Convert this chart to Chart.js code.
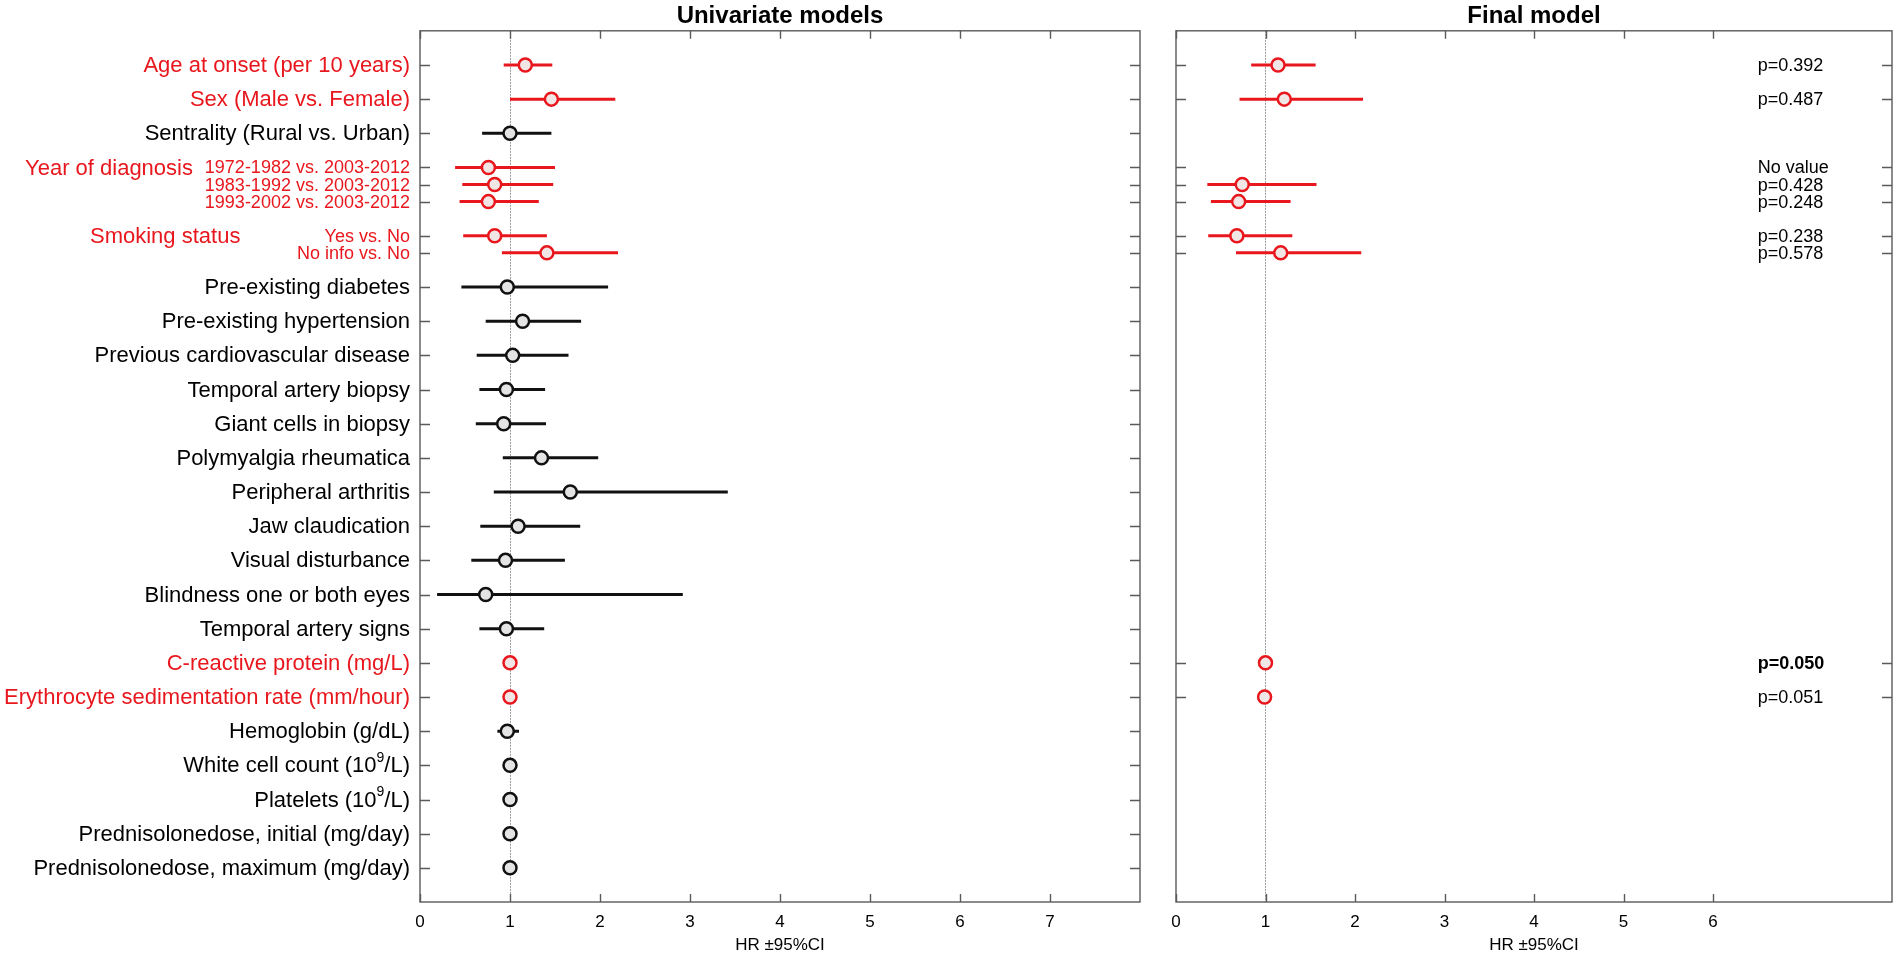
<!DOCTYPE html>
<html>
<head>
<meta charset="utf-8">
<title>Hazard ratios - univariate and final model</title>
<script src="https://cdn.jsdelivr.net/npm/chart.js@4.4.1/dist/chart.umd.min.js"></script>
<style>
  html, body { margin: 0; padding: 0; background: #fff; }
  #wrap { position: relative; width: 1902px; height: 959px; }
  canvas { position: absolute; top: 0; }
  #uniChart { left: 0; }
  #finalChart { left: 1158px; }
</style>
</head>
<body>
<div id="wrap">
  <canvas id="uniChart" width="1158" height="959"></canvas>
  <canvas id="finalChart" width="744" height="959"></canvas>
</div>
<script>
// --- univariate models (one entry per row, y position 0 = top row) ---
const rowPos = [0, 1, 2, 3, 3.5, 4, 5, 5.5, 6.5, 7.5, 8.5, 9.5, 10.5, 11.5, 12.5,
    13.5, 14.5, 15.5, 16.5, 17.5, 18.5, 19.5, 20.5, 21.5, 22.5, 23.5];
const rowLabels = [
    'Age at onset (per 10 years)',
    'Sex (Male vs. Female)',
    'Sentrality (Rural vs. Urban)',
    '1972-1982 vs. 2003-2012',
    '1983-1992 vs. 2003-2012',
    '1993-2002 vs. 2003-2012',
    'Yes vs. No',
    'No info vs. No',
    'Pre-existing diabetes',
    'Pre-existing hypertension',
    'Previous cardiovascular disease',
    'Temporal artery biopsy',
    'Giant cells in biopsy',
    'Polymyalgia rheumatica',
    'Peripheral arthritis',
    'Jaw claudication',
    'Visual disturbance',
    'Blindness one or both eyes',
    'Temporal artery signs',
    'C-reactive protein (mg/L)',
    'Erythrocyte sedimentation rate (mm/hour)',
    'Hemoglobin (g/dL)',
    'White cell count (10^9/L)',
    'Platelets (10^9/L)',
    'Prednisolonedose, initial (mg/day)',
    'Prednisolonedose, maximum (mg/day)'
];
const uniHR = [1.17, 1.46, 1.00, 0.76, 0.83, 0.76, 0.83, 1.41, 0.97, 1.14, 1.03, 0.96, 0.93,
    1.35, 1.67, 1.09, 0.95, 0.73, 0.96, 1.00, 1.00, 0.97, 1.00, 1.00, 1.00, 1.00];
const uniLo = [0.93, 1.00, 0.69, 0.39, 0.47, 0.44, 0.48, 0.91, 0.46, 0.73, 0.63, 0.66, 0.62,
    0.92, 0.82, 0.67, 0.57, 0.19, 0.66, null, null, 0.86, null, null, null, null];
const uniHi = [1.47, 2.17, 1.46, 1.50, 1.48, 1.32, 1.41, 2.20, 2.09, 1.79, 1.65, 1.39, 1.40,
    1.98, 3.42, 1.78, 1.61, 2.92, 1.38, null, null, 1.10, null, null, null, null];
const redRows = [0, 1, 3, 4, 5, 6, 7, 19, 20];
const subRows = [3, 4, 5, 6, 7];
const groupLabels = ['Year of diagnosis', 'Smoking status'];
const groupRows = [3, 6];

// --- final model ---
const finPos = [0, 1, 3.5, 4, 5, 5.5, 17.5, 18.5];
const finHR = [1.14, 1.21, 0.74, 0.70, 0.68, 1.17, 1.00, 0.99];
const finLo = [0.84, 0.71, 0.35, 0.39, 0.36, 0.67, null, null];
const finHi = [1.56, 2.09, 1.57, 1.28, 1.30, 2.07, null, null];
const finTickRows = [0, 1, 3, 3.5, 4, 5, 5.5, 17.5, 18.5];
const pTexts = ['p=0.392', 'p=0.487', 'No value', 'p=0.428', 'p=0.248', 'p=0.238', 'p=0.578', 'p=0.050', 'p=0.051'];
const pRows = [0, 1, 3, 3.5, 4, 5, 5.5, 17.5, 18.5];
const pBold = [7];
const pValueX = 6.5;

const uniTicks = [0, 1, 2, 3, 4, 5, 6, 7];
const finTicks = [0, 1, 2, 3, 4, 5, 6];

const RED = '#e8171d';
const BLACK = '#111111';
const FONT = "'Liberation Sans', Arial, Helvetica, sans-serif";

function buildDatasets(pos, lo, hr, hi, isRed) {
    const sets = [];
    pos.forEach((p, i) => {
        if (lo[i] === null) return;
        sets.push({
            type: 'scatter',
            showLine: true,
            data: [{x: lo[i], y: p}, {x: hi[i], y: p}],
            borderColor: isRed(i) ? RED : BLACK,
            borderWidth: 3,
            pointRadius: 0,
            order: 2
        });
    });
    sets.push({
        type: 'scatter',
        data: pos.map((p, i) => ({x: hr[i], y: p})),
        pointRadius: 6.5,
        pointBorderWidth: 2.5,
        pointBorderColor: pos.map((p, i) => isRed(i) ? RED : BLACK),
        pointBackgroundColor: pos.map((p, i) => isRed(i) ? '#f1e6e6' : '#e4e4e4'),
        order: 1
    });
    return sets;
}

// frame with inward tick marks on all four sides
const framePlugin = {
    id: 'frame',
    beforeDatasetsDraw(chart, args, opts) {
        const {ctx, chartArea: a, scales: {x, y}} = chart;
        ctx.save();
        ctx.strokeStyle = '#5a5a5a';
        ctx.lineWidth = 1.4;
        ctx.strokeRect(a.left, a.top, a.right - a.left, a.bottom - a.top);
        ctx.beginPath();
        opts.xTicks.forEach(v => {
            const px = Math.round(x.getPixelForValue(v)) + 0.5;
            ctx.moveTo(px, a.top); ctx.lineTo(px, a.top + 8);
            ctx.moveTo(px, a.bottom); ctx.lineTo(px, a.bottom - 8);
        });
        opts.yTicks.forEach(v => {
            const py = Math.round(y.getPixelForValue(v)) + 0.5;
            ctx.moveTo(a.left, py); ctx.lineTo(a.left + 10, py);
            ctx.moveTo(a.right, py); ctx.lineTo(a.right - 10, py);
        });
        ctx.stroke();
        ctx.restore();
    }
};

// draws text right-aligned at x; "^" marks a one character superscript
function drawLabel(ctx, text, x, y, size) {
    const parts = text.split('^');
    const segs = [{t: parts[0], sup: false}];
    if (parts.length > 1) {
        segs.push({t: parts[1].charAt(0), sup: true});
        segs.push({t: parts[1].slice(1), sup: false});
    }
    let total = 0;
    segs.forEach(s => {
        ctx.font = (s.sup ? Math.round(size * 0.65) : size) + 'px ' + FONT;
        s.w = ctx.measureText(s.t).width;
        total += s.w;
    });
    let cx = x - total;
    segs.forEach(s => {
        ctx.font = (s.sup ? Math.round(size * 0.65) : size) + 'px ' + FONT;
        ctx.fillText(s.t, cx, s.sup ? y - size * 0.38 : y);
        cx += s.w;
    });
}

const rowLabelPlugin = {
    id: 'rowLabels',
    afterDraw(chart) {
        const {ctx, chartArea: a, scales: {y}} = chart;
        ctx.save();
        ctx.textBaseline = 'middle';
        ctx.textAlign = 'left';
        rowLabels.forEach((label, i) => {
            const py = y.getPixelForValue(rowPos[i]) + 1;
            ctx.fillStyle = redRows.includes(i) ? RED : '#000';
            drawLabel(ctx, label, a.left - 10, py, subRows.includes(i) ? 18 : 22);
        });
        // group headings on the left
        ctx.fillStyle = RED;
        ctx.font = '22px ' + FONT;
        const groupX = [25, 90];
        groupLabels.forEach((g, i) => {
            ctx.fillText(g, groupX[i], y.getPixelForValue(rowPos[groupRows[i]]) + 1);
        });
        ctx.restore();
    }
};

const pValuePlugin = {
    id: 'pValues',
    afterDraw(chart) {
        const {ctx, scales: {x, y}} = chart;
        ctx.save();
        ctx.textBaseline = 'middle';
        ctx.textAlign = 'left';
        ctx.fillStyle = '#000';
        pTexts.forEach((t, i) => {
            ctx.font = (pBold.includes(i) ? 'bold ' : '') + '18px ' + FONT;
            ctx.fillText(t, x.getPixelForValue(pValueX), y.getPixelForValue(pRows[i]) + 1);
        });
        ctx.restore();
    }
};

function makeOptions(title, maxLabel, tickRows, xTicks, padding) {
    return {
        responsive: false,
        animation: false,
        events: [],
        layout: {padding: padding},
        plugins: {
            legend: {display: false},
            tooltip: {enabled: false},
            title: {
                display: true,
                text: title,
                fullSize: false,
                color: '#000',
                font: {family: FONT, size: 24, weight: 'bold'},
                padding: {top: 2, bottom: 0}
            },
            frame: {xTicks: xTicks, yTicks: tickRows}
        },
        scales: {
            x: {
                type: 'linear',
                min: 0,
                max: 8,
                afterFit: scale => { scale.height = 57; },
                border: {display: false, dash: [2, 1]},
                grid: {
                    drawTicks: false,
                    color: ctx => ctx.tick && ctx.tick.value === 1 ? '#9a9a9a' : 'rgba(0,0,0,0)',
                    lineWidth: 1
                },
                ticks: {
                    stepSize: 1,
                    autoSkip: false,
                    maxRotation: 0,
                    padding: 10,
                    color: '#000',
                    font: {family: FONT, size: 17},
                    callback: v => v <= maxLabel ? String(v) : ''
                },
                title: {
                    display: true,
                    text: 'HR \u00b195%CI',
                    color: '#000',
                    font: {family: FONT, size: 17},
                    padding: {top: 0, bottom: 3}
                }
            },
            y: {
                type: 'linear',
                display: false,
                reverse: true,
                min: -1,
                max: 24.5
            }
        }
    };
}

new Chart(document.getElementById('uniChart'), {
    type: 'scatter',
    data: {datasets: buildDatasets(rowPos, uniLo, uniHR, uniHi, i => redRows.includes(i))},
    options: makeOptions('Univariate models', 7, rowPos, uniTicks, {left: 420, right: 18, top: 0, bottom: 0}),
    plugins: [framePlugin, rowLabelPlugin]
});

new Chart(document.getElementById('finalChart'), {
    type: 'scatter',
    data: {datasets: buildDatasets(finPos, finLo, finHR, finHi, () => true)},
    options: makeOptions('Final model', 6, finTickRows, finTicks, {left: 18, right: 7, top: 0, bottom: 0}),
    plugins: [framePlugin, pValuePlugin]
});
</script>
</body>
</html>
